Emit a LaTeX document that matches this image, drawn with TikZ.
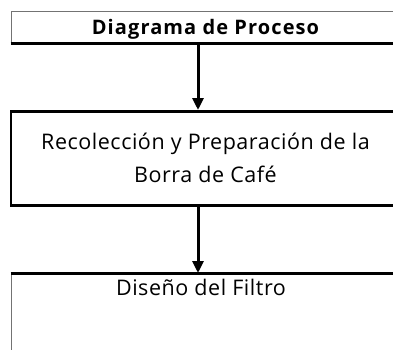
\documentclass[tikz,border=0pt]{standalone}
\usepackage{fontspec}
\setmainfont{Open Sans}
\newfontfamily\ttlfont{Open Sans}[LetterSpace=5.5]
\newfontfamily\bodyfont{Open Sans}[LetterSpace=2.5]
\usetikzlibrary{arrows.meta}
\begin{document}
\begin{tikzpicture}[x=1pt,y=-1pt,
  thinbox/.style={draw=black!55, line width=1pt, anchor=north, minimum width=389pt, inner sep=0pt},
  thickbox/.style={draw=black, line width=2.5pt, anchor=north, minimum width=389pt, inner sep=0pt},
  edge/.style={line width=3pt, black},
  arr/.style={line width=3pt, black, -{Triangle[width=11pt,length=12pt]}},
  ttl/.style={font=\ttlfont\bfseries\fontsize{20}{24}\selectfont, text depth=0pt},
  body/.style={font=\bodyfont\fontsize{21.5}{33}\selectfont, align=center}]
\useasboundingbox (0,0) rectangle (393,349);
\clip (0,0) rectangle (393,349);
% top box
\node[thinbox, ttl, minimum height=31pt] (b1) at (205.5,11) {Diagrama de Proceso};
\draw[edge] (b1.south west) -- (b1.south east);
% second box
\node[thickbox, body, minimum height=94pt] (b2) at (205.5,110) {Recolección y Preparación de la\\Borra de Café};
% third box
\node[thinbox, minimum height=120pt] (b3) at (205.5,273) {};
\draw[edge] (b3.north west) -- (b3.north east);
\node[body, anchor=base] (b3t) at (201,295) {Diseño del Filtro};
% arrows
\coordinate (ax) at (198,0);
\draw[arr] (ax |- b1.south) -- (ax |- b2.north);
\draw[arr] (ax |- b2.south) -- (ax |- b3.north);
\end{tikzpicture}
\end{document}
